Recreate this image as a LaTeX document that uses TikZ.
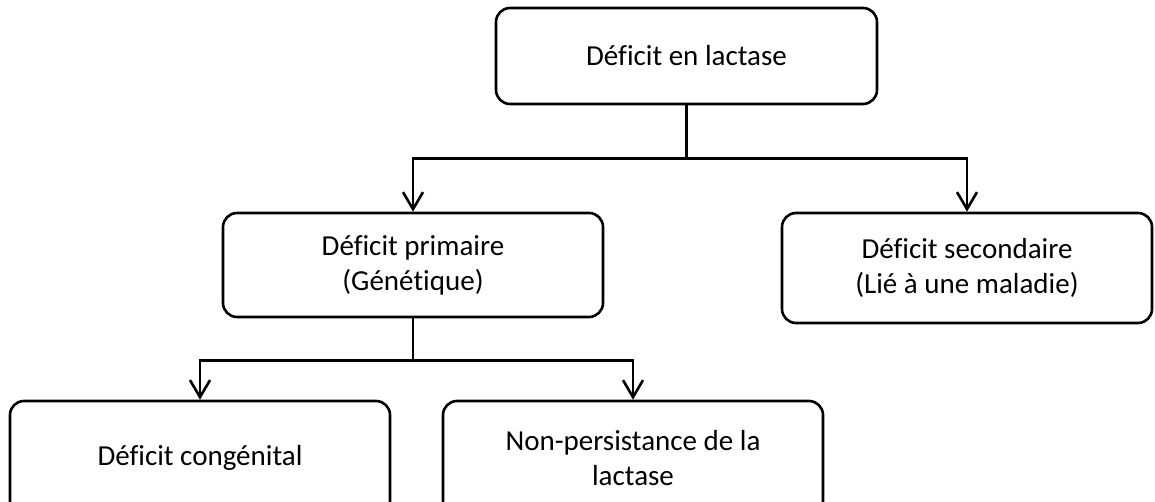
\documentclass[tikz,border=0pt]{standalone}
\usepackage{fontspec}
\setmainfont{Carlito}[Ligatures=NoCommon]
\usepackage{xcolor}
\usetikzlibrary{arrows.meta,positioning}
\tikzstyle{block} = [rectangle, draw, line width=2.6pt, align=center, rounded corners=14pt, inner sep=0pt, font=\fontsize{29}{35}\selectfont]
\tikzstyle{link} = [line width=2.6pt]
\tikzstyle{arrow} = [line width=2.6pt,-{Straight Barb[length=17pt,width=20pt]}]
\begin{document}
\begin{tikzpicture}[x=1pt, y=1pt]
    \useasboundingbox (0,0) rectangle (1155,502);
    \node[block, minimum width=381pt, minimum height=96pt] (deficit) at (686.5,446) {Déficit en lactase};
    \node[block, minimum width=380pt, minimum height=104pt] (primaire) at (413,237) {Déficit primaire\\(Génétique)};
    \node[block, minimum width=370pt, minimum height=110pt] (secondaire) at (967,234) {Déficit secondaire\\(Lié à une maladie)};
    \node[block, minimum width=380pt, minimum height=114pt] (congenital) at (200,44) {Déficit congénital};
    \node[block, minimum width=380pt, minimum height=114pt] (nonpersist) at (633,44) {Non-persistance de la\\lactase};

    \draw[link] (deficit.south) -- ++(0,-53) coordinate (fork1);
    \draw[arrow] (fork1) -| (primaire.north);
    \draw[arrow] (fork1) -| (secondaire.north);
    \draw[link] (primaire.south) -- ++(0,-42) coordinate (fork2);
    \draw[arrow] (fork2) -| (congenital.north);
    \draw[arrow] (fork2) -| (nonpersist.north);
\end{tikzpicture}
\end{document}
